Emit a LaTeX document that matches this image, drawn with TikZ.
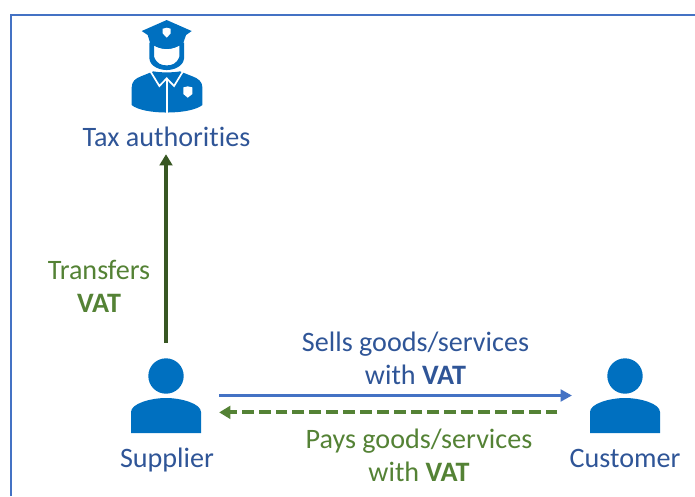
\documentclass[tikz,border=0pt]{standalone}
\usepackage{fontspec}
\setmainfont[RawFeature=-liga]{Carlito}
\usetikzlibrary{positioning,arrows.meta}
\definecolor{iconblue}{HTML}{0070C0}
\definecolor{textblue}{HTML}{2F5597}
\definecolor{lineblue}{HTML}{4472C4}
\definecolor{vatgreen}{HTML}{548235}
\definecolor{darkgreen}{HTML}{385723}
\tikzset{
  person/.pic={
    \fill[iconblue] (0,-19.5) circle (17.7);
    \fill[iconblue] (-35,37.5) -- (-35,16.5) .. controls (-35,8) and (-15,2.5) .. (0,2.5)
      .. controls (15,2.5) and (35,8) .. (35,16.5) -- (35,37.5) -- cycle;
  },
  police/.pic={
    \begin{scope}[scale=1/3]
    % hat
    \fill[iconblue] (-75,-107) -- (0,-140) -- (75,-107) -- (58,-95) -- (50,-72)
      .. controls (20,-47) and (-20,-47) .. (-50,-72) -- (-57,-95) -- cycle;
    \fill[white] (-12,-114) -- (0,-117) -- (12,-114) -- (12,-100) -- (0,-87) -- (-12,-100) -- cycle;
    % face
    \fill[iconblue,even odd rule] (-52,-72) -- (-52,-25) .. controls (-50,0) and (-20,10) .. (0,10)
      .. controls (20,10) and (50,0) .. (52,-25) -- (52,-72) -- cycle
      (-38,-64) .. controls (-15,-50) and (15,-50) .. (38,-64) -- (38,-30)
      .. controls (30,-8) and (15,-4) .. (0,-4) .. controls (-15,-4) and (-30,-8) .. (-38,-30) -- cycle;
    % body
    \fill[iconblue] (-105,115) -- (-105,62) .. controls (-105,45) and (-95,35) .. (-75,28)
      -- (-40,14) .. controls (-20,18) and (20,18) .. (40,14) -- (75,28)
      .. controls (95,35) and (107,45) .. (107,62) -- (107,115)
      .. controls (70,145) and (-70,145) .. (-105,115) -- cycle;
    \draw[white,line width=1.2pt] (-50,12) -- (-22,58) -- (0,35) -- (22,58) -- (50,12);
    \draw[white,line width=1.2pt] (0,35) -- (0,142);
    \fill[white] (50,62) -- (63,59) -- (77,62) -- (77,82) -- (63,93) -- (50,82) -- cycle;
    \end{scope}
  }
}
\begin{document}
\begin{tikzpicture}[
  x=0.025cm,y=-0.025cm,
  mylabel/.style={align=center,inner sep=0pt,font=\fontsize{20}{23.4}\selectfont},
  bluelabel/.style={mylabel,text=textblue},
  greenlabel/.style={mylabel,text=vatgreen},
  iconbox/.style={minimum width=70*0.025cm,minimum height=75*0.025cm,inner sep=0pt},
  sellsline/.style={draw=lineblue,line width=1.5pt,-{Triangle[length=8pt,width=8.5pt]}},
  paysline/.style={draw=vatgreen,line width=2.8pt,dash pattern=on 8.4pt off 3.6pt,-{Triangle[length=8pt,width=9pt]}},
  taxline/.style={draw=darkgreen,line width=2.5pt,-{Triangle[length=8pt,width=9pt]}}
]
\useasboundingbox (0,0) rectangle (695,496);
\draw[lineblue,line width=1.5pt] (11,496) -- (11,15) -- (695,15);
\node[iconbox] (supplier) at (166,395.5) {};
\node[iconbox] (customer) at (625,395.5) {};
\node[iconbox] (taxicon) at (166.7,66.7) {};
\pic at (supplier) {person};
\pic at (customer) {person};
\pic at (taxicon) {police};
\node[bluelabel] (taxlabel) at (166.5,137) {Tax authorities};
\node[bluelabel] (supplierlabel) at (167,460) {Supplier};
\node[bluelabel] (customerlabel) at (625,458) {Customer};
\node[greenlabel] (transfers) at (99,286) {Transfers\\\textbf{VAT}};
\node[bluelabel] (sells) at (415.5,358) {Sells goods/services\\with \textbf{VAT}};
\node[greenlabel] (pays) at (419,455) {Pays goods/services\\with \textbf{VAT}};
\draw[taxline,shorten <=10.5pt,shorten >=5pt] (supplier.north) -- (taxlabel.south -| supplier.north);
\draw[sellsline,shorten <=12.7pt,shorten >=12.7pt] (supplier.east) -- (customer.west);
\draw[paysline,shorten <=23pt,shorten >=12.7pt] ([yshift=-12pt]customer.west) -- ([yshift=-12pt]supplier.east);
\end{tikzpicture}
\end{document}
